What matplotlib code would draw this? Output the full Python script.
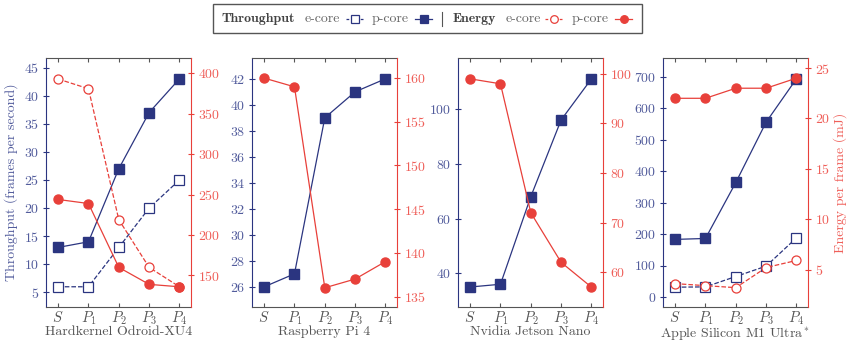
import matplotlib.pyplot as plt
from matplotlib.lines import Line2D
from matplotlib.patches import Rectangle

plt.rcParams['font.family'] = 'serif'
plt.rcParams['font.serif'] = ['cmr10']
plt.rcParams['mathtext.fontset'] = 'cm'
plt.rcParams['axes.formatter.use_mathtext'] = True
plt.rcParams['font.size'] = 10

navy = '#2b3580'
navy_txt = '#525c9c'
red = '#e8403a'
red_txt = '#ef5f59'
gray = '#555555'

stages = ['$S$', '$P_1$', '$P_2$', '$P_3$', '$P_4$']
devices = ['Hardkernel Odroid-XU4', 'Raspberry Pi 4', 'Nvidia Jetson Nano',
           'Apple Silicon M1 Ultra$^*$']

# throughput (fps), None = no e-core
tp_ecore = [[6, 6, 13, 20, 25], None, None, [31, 32, 65, 98, 188]]
tp_pcore = [[13, 14, 27, 37, 43], [26, 27, 39, 41, 42],
            [35, 36, 68, 96, 111], [183, 186, 364, 556, 694]]
# energy per frame (mJ)
en_ecore = [[393, 381, 219, 160, 136], None, None, [3.6, 3.4, 3.2, 5.2, 5.9]]
en_pcore = [[244, 239, 160, 139, 136], [160, 159, 136, 137, 139],
            [99, 98, 72, 62, 57], [22, 22, 23, 23, 24]]

tp_lims = [(2.4, 46.7), (24.45, 43.6), (27.7, 118.6), (-32, 760)]
tp_ticks = [range(5, 46, 5), range(26, 43, 2), range(40, 101, 20), range(0, 701, 100)]
en_lims = [(111, 419), (133.8, 162.3), (53, 103.2), (1.28, 26)]
en_ticks = [range(150, 401, 50), range(135, 161, 5), range(60, 101, 10), range(5, 26, 5)]

W, H = 847, 344
fig = plt.figure(figsize=(W / 100, H / 100), dpi=100)
lefts = [46, 252, 458, 663]
x = range(len(stages))

for i in range(4):
    ax = fig.add_axes([lefts[i] / W, 1 - 307 / H, 145 / W, 249 / H])
    ax2 = ax.twinx()

    if tp_ecore[i] is not None:
        ax.plot(x, tp_ecore[i], '--', color=navy, lw=0.9, marker='s', ms=6.5,
                mfc='white', mec=navy, mew=0.9)
    ax.plot(x, tp_pcore[i], '-', color=navy, lw=0.9, marker='s', ms=6.5,
            mfc=navy, mec=navy)
    if en_ecore[i] is not None:
        ax2.plot(x, en_ecore[i], '--', color=red, lw=0.9, marker='o', ms=6.5,
                 mfc='white', mec=red, mew=0.9)
    ax2.plot(x, en_pcore[i], '-', color=red, lw=0.9, marker='o', ms=6.5,
             mfc=red, mec=red)

    ax.set_xlim(-0.4, 4.38)
    ax.set_ylim(tp_lims[i])
    ax.set_yticks(list(tp_ticks[i]))
    ax2.set_ylim(en_lims[i])
    ax2.set_yticks(list(en_ticks[i]))
    ax.set_xticks(list(x))
    ax.set_xticklabels(stages)

    ax.spines['left'].set_color(navy)
    ax.spines['right'].set_visible(False)
    ax.spines['top'].set_color(gray)
    ax.spines['bottom'].set_color(gray)
    for s in ['left', 'top', 'bottom']:
        ax2.spines[s].set_visible(False)
    ax2.spines['right'].set_color(red)

    ax.tick_params(axis='y', colors=navy, labelcolor=navy_txt, direction='inout',
                   length=4, width=0.8, labelsize=10, pad=3)
    ax2.tick_params(axis='y', colors=red, labelcolor=red_txt, direction='inout',
                    length=4, width=0.8, labelsize=10, pad=3)
    ax.tick_params(axis='x', colors=gray, labelcolor=gray, direction='in',
                   length=3, width=0.8, top=True, labelsize=10.5, pad=2)
    ax.set_xlabel(devices[i], color=gray, fontsize=10, labelpad=-1)

    if i == 0:
        ax.set_ylabel('Throughput (frames per second)', color=navy_txt,
                      fontsize=10, labelpad=4)
    if i == 3:
        ax2.set_ylabel('Energy per frame (mJ)', color=red_txt, fontsize=10,
                       labelpad=2)

# legend box drawn by hand (label first, then the marker)
def fx(px):
    return px / W

ly = 1 - 19 / H
fig.patches.append(Rectangle((fx(212.5), 1 - 33 / H), fx(429), 29 / H,
                             transform=fig.transFigure, fill=False,
                             edgecolor='#555555', lw=1.0))
fig.text(fx(222), ly, 'Throughput', fontfamily='cmb10', fontsize=10,
         color='#444444', va='center')
fig.text(fx(453), ly, 'Energy', fontfamily='cmb10', fontsize=10,
         color='#444444', va='center')
for tx in [305, 372, 506, 572]:
    fig.text(fx(tx), ly, 'e-core' if tx in (305, 506) else 'p-core',
             color='#666666', fontsize=10, va='center')
keys = [(346, '--', navy, 's', 'white'), (415, '-', navy, 's', navy),
        (545, '--', red, 'o', 'white'), (615, '-', red, 'o', red)]
for kx, ls, c, m, fc in keys:
    fig.lines.append(Line2D([fx(kx), fx(kx + 17)], [ly, ly], ls=ls, color=c,
                            lw=0.9, dashes=(2.2, 1.6) if ls == '--' else (None, None),
                            transform=fig.transFigure))
    fig.lines.append(Line2D([fx(kx + 8.5)], [ly], ls='none', marker=m, ms=5.5,
                            mfc=fc, mec=c, mew=0.9, transform=fig.transFigure))
fig.lines.append(Line2D([fx(442), fx(442)], [1 - 12 / H, 1 - 26 / H],
                        color='#555555', lw=0.8, transform=fig.transFigure))

fig.savefig('out.png', dpi=100)
